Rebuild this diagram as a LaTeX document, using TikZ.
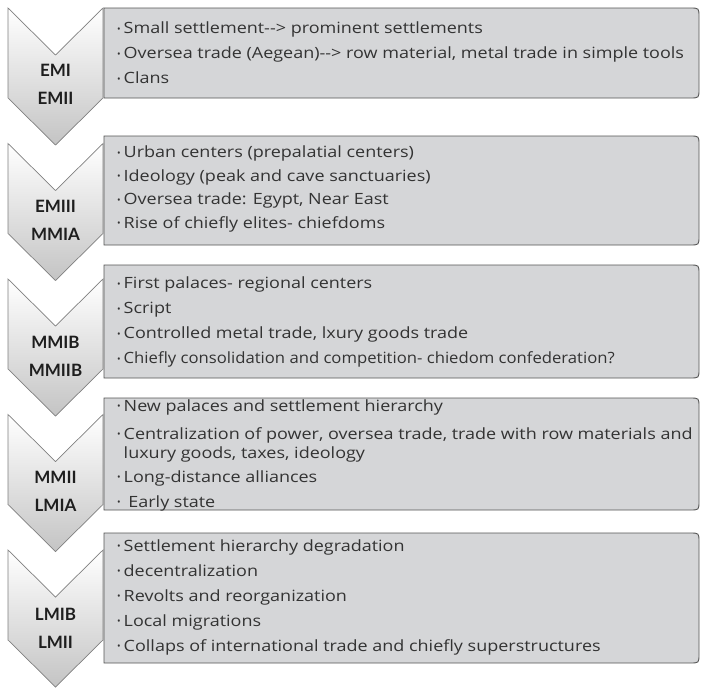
\documentclass[tikz,border=0pt]{standalone}
\usepackage{graphicx}
\usepackage{fontspec}
\setmainfont{Open Sans}[FakeStretch=1.16]
\newfontfamily\bulfont{Open Sans}
\newfontfamily\labelfont{Lato}
\definecolor{boxfill}{HTML}{D5D6D8}
\definecolor{boxline}{HTML}{555555}
\definecolor{chevline}{HTML}{808080}
\definecolor{chevbot}{HTML}{C4C4C4}
\definecolor{txt}{HTML}{333333}
\definecolor{labtxt}{HTML}{1E1E1E}
\newcommand\bul{\makebox[6.5pt][l]{\raisebox{1.3pt}{\bulfont\fontsize{9.5}{9.5}\selectfont •}}}
\newcommand\dd{\mbox{-}\mbox{-}>}
\newcommand\drawbox[2]{\draw[boxstyle] (104,#1) -- (690,#1) .. controls (699,#1) .. (699,#1+9) -- (699,#2-9) .. controls (699,#2) .. (690,#2) -- (104,#2) -- cycle;}
\newcommand\drawchev[1]{\shade[chevstyle] (8,#1) -- (55.5,#1+47) -- (103,#1) -- (103,#1+90) -- (55.5,#1+137) -- (8,#1+90) -- cycle;}
\tikzset{
  boxstyle/.style={fill=boxfill, draw=boxline, line width=0.9pt},
  chevstyle/.style={top color=white, bottom color=chevbot, draw=chevline, line width=0.7pt},
  boxtext/.style={anchor=west, align=left, inner sep=0pt, text=txt, font=\fontsize{15.5}{19}\selectfont},
  lab/.style={align=center, inner sep=0pt, text=labtxt, font=\labelfont\bfseries\fontsize{17}{28}\selectfont}
}
\begin{document}
\begin{tikzpicture}[x=1pt,y=-1pt]
\useasboundingbox (0,0) rectangle (701,688);
% chevrons
\drawchev{8}
\drawchev{143.5}
\drawchev{279}
\drawchev{414.5}
\drawchev{550}
% boxes
\drawbox{8}{98}
\drawbox{136}{245}
\drawbox{265}{378}
\drawbox{398}{510}
\drawbox{533}{663}
% labels
\node[lab] (l1) at (55.5,84) {EMI\\EMII};
\node[lab] (l2) at (55.5,220.5) {EMIII\\MMIA};
\node[lab] (l3) at (55.5,356) {MMIB\\MMIIB};
\node[lab] (l4) at (55.5,491.5) {MMII\\LMIA};
\node[lab] (l5) at (55.5,628) {LMIB\\LMII};
% texts
\node[boxtext] (t1) at (117,53) {\bul Small settlement\dd{} prominent settlements\\[6pt]
\bul Oversea trade (Aegean)\dd{} row material, metal trade in simple tools\\[6pt]
\bul Clans};
\node[boxtext] (t2) at (117,189) {\bul Urban centers (prepalatial centers)\\[4.5pt]
\bul Ideology (peak and cave sanctuaries)\\[4.5pt]
\bul Oversea trade: Egypt, Near East\\[4.5pt]
\bul Rise of chiefly elites- chiefdoms};
\node[boxtext] (t3) at (117,322) {\bul First palaces- regional centers\\[6pt]
\bul Script\\[6pt]
\bul Controlled metal trade, lxury goods trade\\[6pt]
\bul \scalebox{0.927}[1]{Chiefly consolidation and competition- chiedom confederation?}};
\node[boxtext] (t4) at (117,455) {\bul New palaces and settlement hierarchy\\[9pt]
\bul Centralization of power, oversea trade, trade with row materials and\\
\hspace*{6.5pt}luxury goods, taxes, ideology\\[5pt]
\bul Long-distance alliances\\[6pt]
\bul\ Early state};
\node[boxtext] (t5) at (117,597) {\bul Settlement hierarchy degradation\\[6pt]
\bul decentralization\\[6pt]
\bul Revolts and reorganization\\[6pt]
\bul Local migrations\\[6pt]
\bul Collaps of international trade and chiefly superstructures};
\end{tikzpicture}
\end{document}
